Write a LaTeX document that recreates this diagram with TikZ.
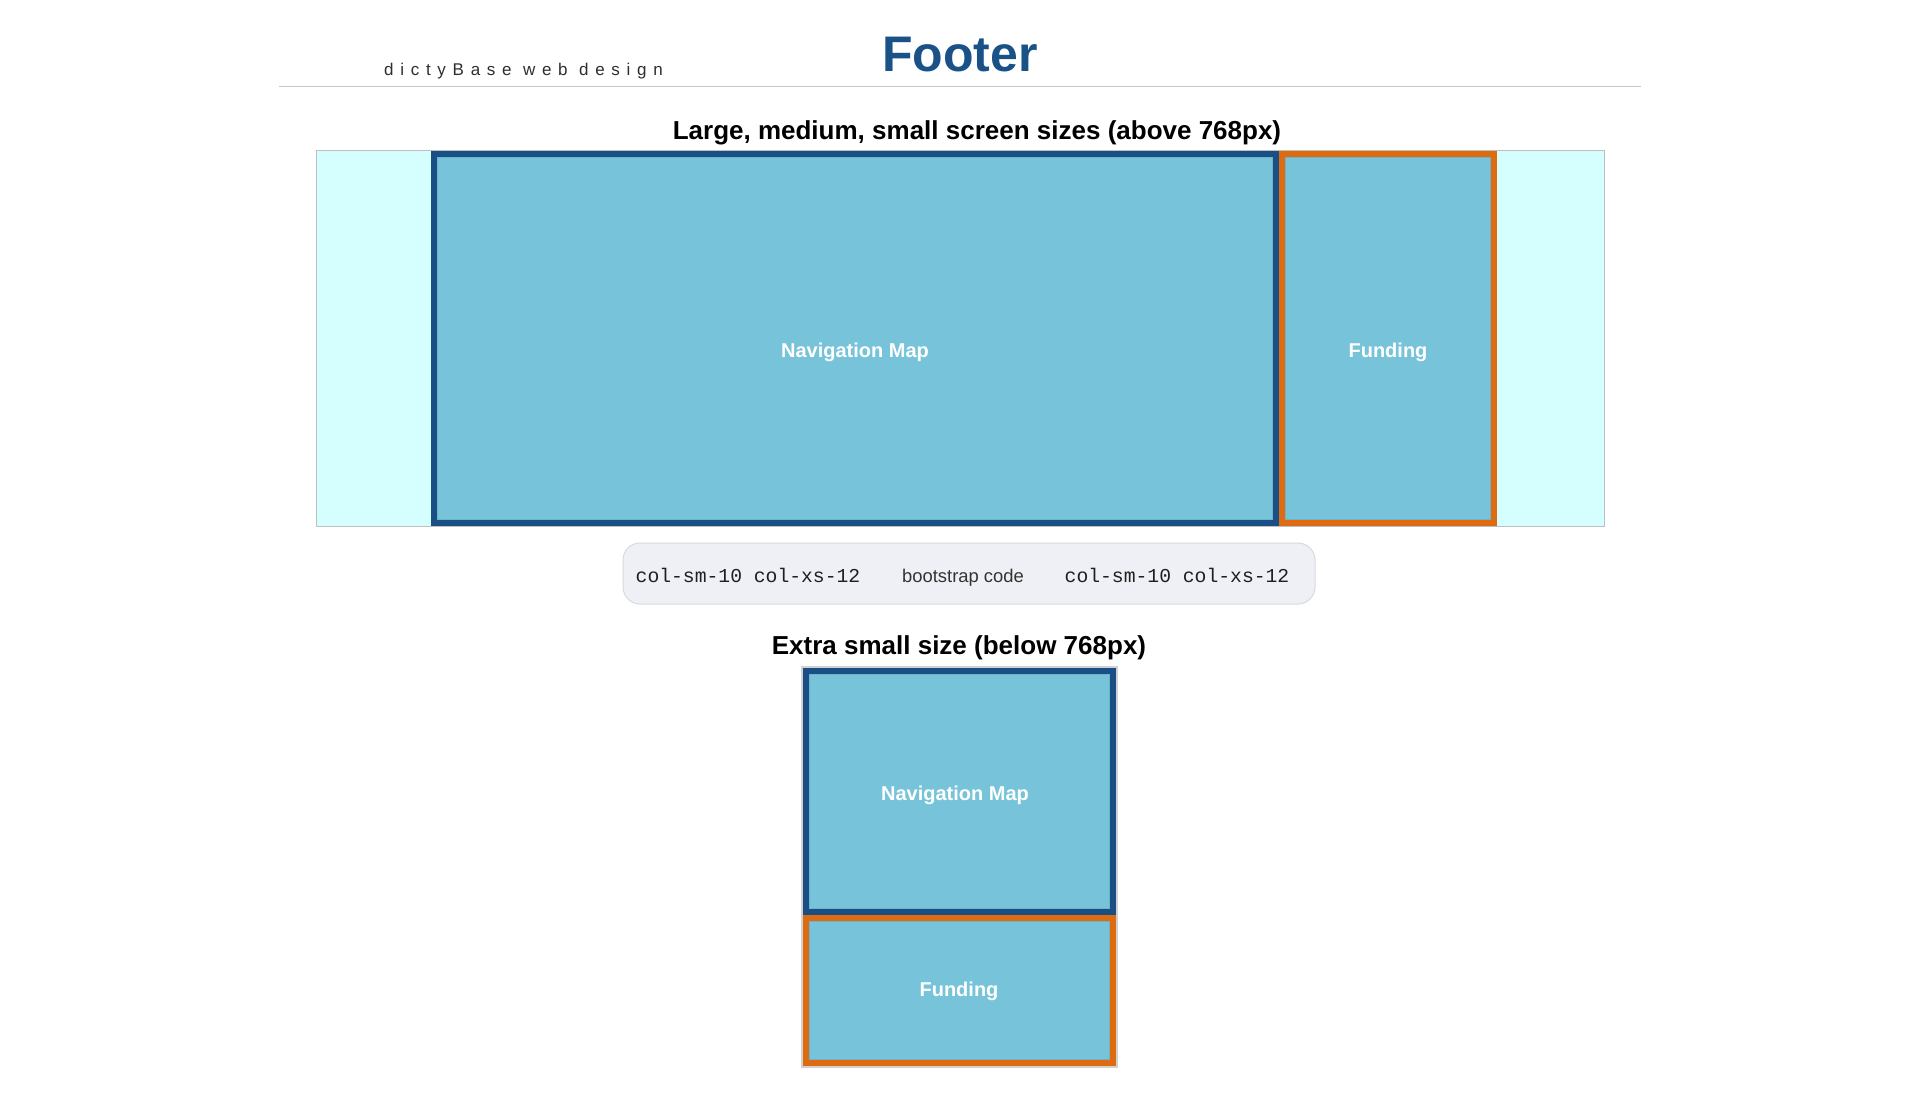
\documentclass[tikz,border=0pt]{standalone}
\usepackage{fontspec}
\setmainfont{Liberation Sans}
\setmonofont{Liberation Mono}
\definecolor{navblue}{HTML}{1A4F85}
\definecolor{funorange}{HTML}{DE6B0F}
\definecolor{boxfill}{HTML}{77C3D9}
\definecolor{boxinner}{HTML}{6CB4CA}
\definecolor{cyanbg}{HTML}{D4FFFE}
\definecolor{titleblue}{HTML}{1A5288}
\definecolor{codebg}{HTML}{EFF0F5}
\definecolor{codeborder}{HTML}{D9DADF}
\tikzset{
  navbox/.style={rectangle, inner sep=0pt, outer sep=0pt, fill=navblue},
  funbox/.style={rectangle, inner sep=0pt, outer sep=0pt, fill=funorange},
  innerfill/.style={fill=boxfill, draw=boxinner, line width=1pt},
  lbl/.style={text=white, font=\bfseries\fontsize{20}{24}\selectfont, anchor=base, inner sep=0pt},
  heading/.style={anchor=base, inner sep=0pt, font=\bfseries\fontsize{26}{31}\selectfont},
  codetxt/.style={anchor=base, inner sep=0pt, text=black!88, font=\ttfamily\fontsize{19.7}{24}\selectfont},
}
\begin{document}
\begin{tikzpicture}[x=1pt,y=-1pt]
\useasboundingbox[fill=white] (0,0) rectangle (1920,1100);

% header
\node[anchor=base west, inner sep=0pt, text=black!82, font=\fontsize{17}{20}\selectfont\addfontfeature{LetterSpace=39.5}] (brand) at (384,75) {dictyBase web design};
\node[anchor=base, inner sep=0pt, text=titleblue, font=\bfseries\fontsize{50}{60}\selectfont] (title) at (960,71) {Footer};
\coordinate (hl) at (279,86);
\coordinate (hr) at (1641,86);
\draw[black!22, line width=1pt] (hl) -- (hr);

% large layout
\node[heading] (h1) at (977,139) {Large, medium, small screen sizes (above 768px)};
\node[draw=black!25, fill=cyanbg, line width=1pt, minimum width=1288pt, minimum height=376pt, inner sep=0pt] (bg) at (960,338) {};
\node[navbox, minimum width=848pt, minimum height=375pt] (nav) at (855,338.5) {};
\node[funbox, minimum width=218pt, minimum height=375pt] (fund) at (1388,338.5) {};
\filldraw[innerfill] ([xshift=6.5pt,yshift=-6.5pt]nav.north west) rectangle ([xshift=-6.5pt,yshift=6.5pt]nav.south east);
\filldraw[innerfill] ([xshift=6.5pt,yshift=-6.5pt]fund.north west) rectangle ([xshift=-6.5pt,yshift=6.5pt]fund.south east);
\node[lbl] (navt) at (855,357) {Navigation Map};
\node[lbl] (fundt) at (1388,357) {Funding};

% bootstrap code
\node[draw=codeborder, fill=codebg, rounded corners=17pt, minimum width=692pt, minimum height=61pt, inner sep=0pt, line width=1pt] (code) at (969,573.5) {};
\node[codetxt] (codea) at (748,582) {col-sm-10 col-xs-12};
\node[anchor=base, inner sep=0pt, text=black!80, font=\fontsize{18.4}{22}\selectfont] (codemid) at (963,582) {bootstrap code};
\node[codetxt] (codeb) at (1177,582) {col-sm-10 col-xs-12};

% extra small layout
\node[heading] (h2) at (959,654) {Extra small size (below 768px)};
\node[draw=black!18, line width=1.5pt, minimum width=315pt, minimum height=400pt, inner sep=0pt] (stack) at (959.5,867) {};
\node[navbox, minimum width=313pt, minimum height=247pt] (snav) at (959.5,791.5) {};
\node[funbox, minimum width=313pt, minimum height=151pt] (sfund) at (959.5,990.5) {};
\filldraw[innerfill] ([xshift=6.5pt,yshift=-6.5pt]snav.north west) rectangle ([xshift=-6.5pt,yshift=6.5pt]snav.south east);
\filldraw[innerfill] ([xshift=6.5pt,yshift=-6.5pt]sfund.north west) rectangle ([xshift=-6.5pt,yshift=6.5pt]sfund.south east);
\node[lbl] (snavt) at (955,800) {Navigation Map};
\node[lbl] (sfundt) at (959,996) {Funding};
\end{tikzpicture}
\end{document}
